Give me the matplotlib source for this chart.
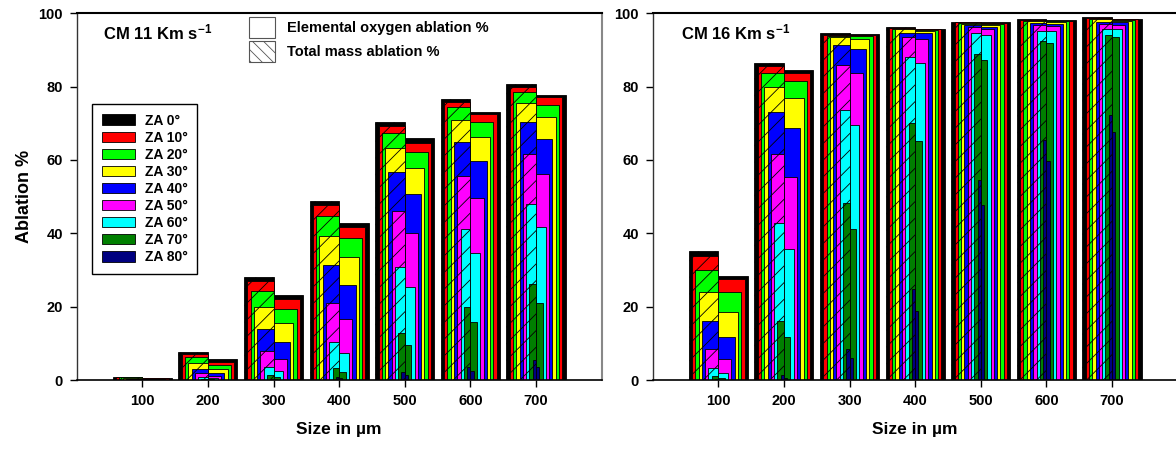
import numpy as np
import matplotlib
matplotlib.use("Agg")
import matplotlib.pyplot as plt
from matplotlib.patches import Patch

plt.rcParams['font.family'] = ['Liberation Sans', 'DejaVu Sans']
plt.rcParams['font.weight'] = 'bold'
plt.rcParams['axes.labelweight'] = 'bold'
plt.rcParams['mathtext.fontset'] = 'custom'
plt.rcParams['mathtext.rm'] = 'Liberation Sans:bold'
plt.rcParams['mathtext.bf'] = 'Liberation Sans:bold'
plt.rcParams['mathtext.default'] = 'regular'
plt.rcParams['hatch.linewidth'] = 0.6

# particle sizes (x axis)
sizes = [100, 200, 300, 400, 500, 600, 700]

# zenith angles and colours
za_angles = [0, 10, 20, 30, 40, 50, 60, 70, 80]
za_colors = ['#000000', '#ff0000', '#00ff00', '#ffff00', '#0000ff',
             '#ff00ff', '#00ffff', '#007f00', '#000080']

# rows = ZA 0..80, columns = sizes 100..700
cm11_total = [
    [0.9, 7.7, 28.2, 48.8, 70.3, 76.7, 80.8],
    [0.8, 7.1, 27.1, 47.8, 69.3, 75.8, 79.8],
    [0.7, 6.2, 24.4, 44.7, 67.3, 74.4, 78.5],
    [0.5, 4.6, 19.8, 39.3, 63.2, 70.9, 75.5],
    [0.3, 3.0, 13.8, 31.4, 56.6, 65.0, 70.4],
    [0.15, 1.8, 8.0, 21.1, 46.2, 55.7, 61.6],
    [0.05, 0.9, 3.6, 10.5, 30.7, 41.1, 48.0],
    [0.01, 0.3, 1.4, 3.4, 12.7, 20.0, 26.3],
    [0.0, 0.05, 0.3, 0.9, 2.3, 3.6, 5.5],
]
cm11_oxygen = [
    [0.5, 5.6, 23.1, 42.7, 65.9, 73.2, 77.7],
    [0.45, 5.0, 22.2, 41.6, 64.7, 72.5, 77.1],
    [0.35, 4.2, 19.5, 38.6, 62.3, 70.3, 75.1],
    [0.25, 3.0, 15.6, 33.5, 57.9, 66.4, 71.6],
    [0.15, 1.9, 10.5, 25.9, 50.6, 59.8, 65.6],
    [0.08, 1.1, 5.6, 16.6, 40.0, 49.5, 56.2],
    [0.03, 0.5, 2.5, 7.5, 25.3, 34.7, 41.6],
    [0.01, 0.15, 0.9, 2.3, 9.5, 15.9, 21.1],
    [0.0, 0.02, 0.2, 0.5, 1.4, 2.5, 3.6],
]
cm16_total = [
    [35.3, 86.5, 94.5, 96.2, 97.6, 98.4, 98.9],
    [33.8, 85.6, 94.2, 96.0, 97.5, 98.2, 98.7],
    [30.0, 83.8, 93.9, 95.8, 97.3, 98.0, 98.5],
    [23.9, 79.8, 93.6, 95.6, 97.1, 97.8, 98.4],
    [16.1, 73.1, 91.3, 94.7, 96.7, 97.3, 97.6],
    [8.4, 61.6, 85.8, 93.6, 96.4, 96.9, 97.1],
    [3.2, 42.7, 73.6, 88.0, 94.7, 95.3, 95.8],
    [1.1, 16.1, 48.2, 70.2, 88.9, 92.5, 94.2],
    [0.2, 1.4, 8.4, 24.7, 54.5, 65.5, 72.2],
]
cm16_oxygen = [
    [28.5, 84.5, 94.4, 95.8, 97.5, 98.2, 98.5],
    [27.5, 83.8, 94.1, 95.6, 97.3, 98.0, 98.4],
    [23.9, 81.6, 93.8, 95.5, 97.1, 97.8, 98.2],
    [18.5, 76.9, 93.1, 95.1, 96.7, 97.5, 97.8],
    [11.8, 68.8, 90.4, 94.5, 96.4, 97.1, 97.5],
    [5.8, 55.4, 83.8, 93.1, 95.8, 96.5, 96.9],
    [2.0, 35.6, 69.5, 86.5, 94.2, 95.1, 95.6],
    [0.6, 11.8, 41.1, 65.3, 87.3, 91.8, 93.5],
    [0.1, 0.6, 6.1, 18.9, 47.8, 59.6, 67.6],
]

full_w = 45   # half-group width for ZA 0
step = 5      # each higher ZA bar is this much narrower

fig = plt.figure(figsize=(11.76, 4.51), dpi=100)
ax1 = fig.add_axes([0.0652, 0.1574, 0.4464, 0.8131])
ax2 = fig.add_axes([0.5550, 0.1574, 0.4464, 0.8131])

x = np.array(sizes)
panels = [(ax1, cm11_total, cm11_oxygen, 'CM 11 Km s$^{-1}$', 0.051),
          (ax2, cm16_total, cm16_oxygen, 'CM 16 Km s$^{-1}$', 0.053)]

for ax, total, oxygen, title, tx in panels:
    for i, c in enumerate(za_colors):
        w = full_w - i * step
        # total mass ablation: hatched, to the left of the tick
        ax.bar(x - w, total[i], width=w, align='edge', color=c,
               edgecolor='black', linewidth=0.6, hatch='//')
        # elemental oxygen ablation: plain, to the right of the tick
        ax.bar(x, oxygen[i], width=w, align='edge', color=c,
               edgecolor='black', linewidth=0.6)

    ax.set_xlim(0, 800)
    ax.set_ylim(0, 100)
    ax.set_xticks(sizes)
    ax.set_yticks(range(0, 101, 20))
    ax.tick_params(direction='out', length=5, width=1, labelsize=10.5, pad=5)
    ax.spines['top'].set_linewidth(1.5)
    ax.spines['bottom'].set_linewidth(1.2)
    ax.spines['left'].set_linewidth(1.0)
    ax.spines['left'].set_color('#333333')
    ax.spines['right'].set_linewidth(1.5)
    ax.spines['right'].set_color('#888888')
    ax.set_xlabel('Size in µm', fontsize=12.5, fontweight='bold', labelpad=10)
    ax.text(tx, 0.949, title, transform=ax.transAxes, fontsize=12, va='center')

ax1.set_ylabel('Ablation %', fontsize=13, fontweight='bold')

# ZA legend
za_handles = [Patch(facecolor=c, edgecolor='black', linewidth=0.6, label=f'ZA {a}°')
              for a, c in zip(za_angles, za_colors)]
leg1 = ax1.legend(handles=za_handles, loc='upper left', bbox_to_anchor=(0.030, 0.753),
                  borderaxespad=0, fontsize=10, handlelength=2.4, handleheight=0.8,
                  labelspacing=0.22, handletextpad=0.65, borderpad=0.7,
                  fancybox=False, edgecolor='black', framealpha=1)
leg1.get_frame().set_linewidth(1.0)
ax1.add_artist(leg1)

# type legend
type_handles = [Patch(facecolor='white', edgecolor='#555555', linewidth=0.8,
                      label='Elemental oxygen ablation %'),
                Patch(facecolor='white', edgecolor='#555555', linewidth=0.8,
                      hatch='\\\\\\', label='Total mass ablation %')]
ax1.legend(handles=type_handles, loc='upper left', bbox_to_anchor=(0.328, 0.989),
           borderaxespad=0, borderpad=0, frameon=False, fontsize=10.5,
           handlelength=1.78, handleheight=1.78, labelspacing=0.23,
           handletextpad=0.85)

plt.savefig('out.png', dpi=100)
